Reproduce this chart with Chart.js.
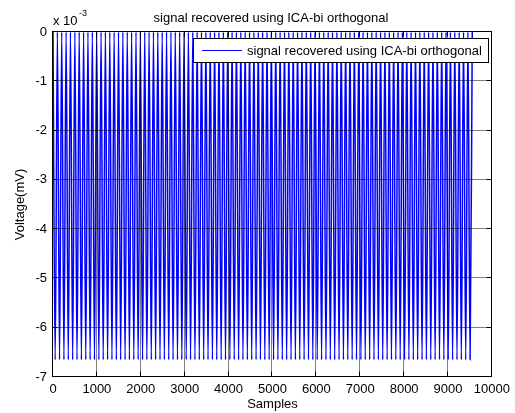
<!DOCTYPE html>
<html>
<head>
<meta charset="utf-8">
<script src="https://cdn.jsdelivr.net/npm/chart.js@4/dist/chart.umd.min.js"></script>
<style>
  html, body { margin: 0; padding: 0; background: #fff; }
  canvas { display: block; }
</style>
</head>
<body>
<canvas id="plot" width="515" height="413"></canvas>
<script>
// ---- chart text ----
const chartTitle = 'signal recovered using ICA-bi orthogonal';
const seriesLabel = 'signal recovered using ICA-bi orthogonal';
const xAxisTitle = 'Samples';
const yAxisTitle = 'Voltage(mV)';
const yExponent = '-3';

// ---- axis ticks ----
const xTicks = [0, 1000, 2000, 3000, 4000, 5000, 6000, 7000, 8000, 9000, 10000];
const yTicks = [-7, -6, -5, -4, -3, -2, -1, 0];

// ---- signal turning points (sample index) and levels (x 10^-3) ----
const peakSamples = [
  0, 100, 199, 299, 398, 498, 597, 697, 796, 896,
  995, 1095, 1194, 1294, 1393, 1493, 1592, 1692, 1791, 1891,
  1990, 2090, 2189, 2289, 2388, 2488, 2587, 2687, 2786, 2886,
  2985, 3085, 3184, 3284, 3383, 3483, 3582, 3682, 3781, 3881,
  3980, 4080, 4179, 4279, 4378, 4478, 4577, 4677, 4776, 4876,
  4975, 5075, 5174, 5274, 5373, 5473, 5572, 5672, 5771, 5871,
  5970, 6070, 6169, 6269, 6368, 6468, 6567, 6667, 6766, 6866,
  6965, 7065, 7164, 7264, 7363, 7463, 7562, 7662, 7761, 7861,
  7960, 8060, 8159, 8259, 8358, 8458, 8557, 8657, 8756, 8856,
  8955, 9055, 9154, 9254, 9353, 9453, 9552
];
const troughSamples = [
  50, 149, 249, 348, 448, 547, 647, 746, 846, 945,
  1045, 1144, 1244, 1343, 1443, 1542, 1642, 1741, 1841, 1940,
  2040, 2139, 2239, 2338, 2438, 2537, 2637, 2736, 2836, 2935,
  3035, 3134, 3234, 3333, 3433, 3532, 3632, 3731, 3831, 3930,
  4030, 4129, 4229, 4328, 4428, 4527, 4627, 4726, 4826, 4925,
  5025, 5124, 5224, 5323, 5423, 5522, 5622, 5721, 5821, 5920,
  6020, 6119, 6219, 6318, 6418, 6517, 6617, 6716, 6816, 6915,
  7015, 7114, 7214, 7313, 7413, 7512, 7612, 7711, 7811, 7910,
  8010, 8109, 8209, 8308, 8408, 8507, 8607, 8706, 8806, 8905,
  9005, 9104, 9204, 9303, 9403, 9502
];
const peakVoltage = 0;
const troughVoltage = -6.65;

// ---- build the point list, alternating peak / trough ----
const points = [];
for (let j = 0; j < peakSamples.length; j++) {
  points.push({ x: peakSamples[j], y: peakVoltage });
  if (j < troughSamples.length) points.push({ x: troughSamples[j], y: troughVoltage });
}

const FONT = 'Liberation Sans, Arial, Helvetica, sans-serif';
const LINE_BLUE = '#0000ff';

// Axes box, grid, inward ticks, legend and texts drawn over the data
const framePlugin = {
  id: 'frame',
  afterDraw(chart) {
    const ctx = chart.ctx;
    const xs = chart.scales.x, ys = chart.scales.y;
    const a = chart.chartArea;
    const L = Math.round(a.left) - 0.5, R = Math.round(a.right) - 0.5;
    const T = Math.round(a.top) - 0.5, B = Math.round(a.bottom) - 0.5;
    ctx.save();

    // grid
    ctx.lineWidth = 1;
    ctx.strokeStyle = 'rgba(0,0,0,0.5)';
    ctx.beginPath();
    xTicks.slice(1, -1).forEach(v => {
      const px = Math.round(xs.getPixelForValue(v)) - 0.5;
      ctx.moveTo(px, T); ctx.lineTo(px, B);
    });
    yTicks.slice(1, -1).forEach(v => {
      const py = Math.round(ys.getPixelForValue(v)) - 0.5;
      ctx.moveTo(L, py); ctx.lineTo(R, py);
    });
    ctx.stroke();

    // legend box
    const lx = 193.5, ly = 38.5, lw = 295, lh = 24;
    ctx.fillStyle = '#fff';
    ctx.fillRect(lx, ly, lw, lh);
    ctx.strokeStyle = '#000';
    ctx.strokeRect(lx, ly, lw, lh);
    const ds = chart.data.datasets[0];
    ctx.strokeStyle = ds.borderColor;
    ctx.beginPath();
    ctx.moveTo(202, ly + lh / 2); ctx.lineTo(242, ly + lh / 2);
    ctx.stroke();
    ctx.fillStyle = '#000';
    ctx.font = '13px ' + FONT;
    ctx.textAlign = 'left';
    ctx.textBaseline = 'middle';
    ctx.fillText(ds.label, 247, ly + lh / 2 + 0.5);

    // axes box
    ctx.strokeStyle = '#000';
    ctx.strokeRect(L, T, R - L, B - T);

    // inward tick marks on all four sides
    const tl = 5;
    ctx.beginPath();
    xTicks.forEach(v => {
      const px = Math.round(xs.getPixelForValue(v)) - 0.5;
      ctx.moveTo(px, B); ctx.lineTo(px, B - tl);
      ctx.moveTo(px, T); ctx.lineTo(px, T + tl);
    });
    yTicks.forEach(v => {
      const py = Math.round(ys.getPixelForValue(v)) - 0.5;
      ctx.moveTo(L, py); ctx.lineTo(L + tl, py);
      ctx.moveTo(R, py); ctx.lineTo(R - tl, py);
    });
    ctx.stroke();

    // title
    ctx.fillStyle = '#000';
    ctx.font = '13px ' + FONT;
    ctx.textAlign = 'center';
    ctx.textBaseline = 'alphabetic';
    ctx.fillText(chartTitle, 271, 22);

    // exponent label
    ctx.textAlign = 'left';
    ctx.fillText('x 10', 53, 25);
    ctx.font = '9px ' + FONT;
    ctx.fillText(yExponent, 79, 16);

    ctx.restore();
  }
};

new Chart(document.getElementById('plot'), {
  type: 'line',
  data: {
    datasets: [{
      label: seriesLabel,
      data: points,
      borderColor: LINE_BLUE,
      borderWidth: 1.5,
      pointRadius: 0,
      fill: false,
      cubicInterpolationMode: 'monotone'
    }]
  },
  options: {
    responsive: false,
    animation: false,
    events: [],
    layout: { padding: { top: 32, right: 21, left: 0, bottom: 0 } },
    plugins: {
      legend: { display: false },
      title: { display: false },
      tooltip: { enabled: false }
    },
    scales: {
      x: {
        type: 'linear',
        min: 0, max: 10000,
        afterBuildTicks: s => { s.ticks = xTicks.map(v => ({ value: v })); },
        afterFit: s => { s.height = 36; },
        grid: { display: false, drawTicks: false },
        border: { display: false },
        ticks: {
          padding: 5,
          maxRotation: 0,
          autoSkip: false,
          color: '#000',
          font: { family: FONT, size: 13 },
          callback: v => String(v)
        },
        title: {
          display: true,
          text: xAxisTitle,
          color: '#000',
          font: { family: FONT, size: 13 },
          padding: { top: 0, bottom: 1 }
        }
      },
      y: {
        type: 'linear',
        min: -7, max: 0,
        afterBuildTicks: s => { s.ticks = yTicks.map(v => ({ value: v })); },
        afterFit: s => { s.width = 53; },
        grid: { display: false, drawTicks: false },
        border: { display: false },
        ticks: {
          padding: 6,
          autoSkip: false,
          color: '#000',
          font: { family: FONT, size: 13 },
          callback: v => String(v)
        },
        title: {
          display: true,
          text: yAxisTitle,
          color: '#000',
          font: { family: FONT, size: 13 },
          padding: { top: 13, bottom: 0 }
        }
      }
    }
  },
  plugins: [framePlugin]
});
</script>
</body>
</html>
